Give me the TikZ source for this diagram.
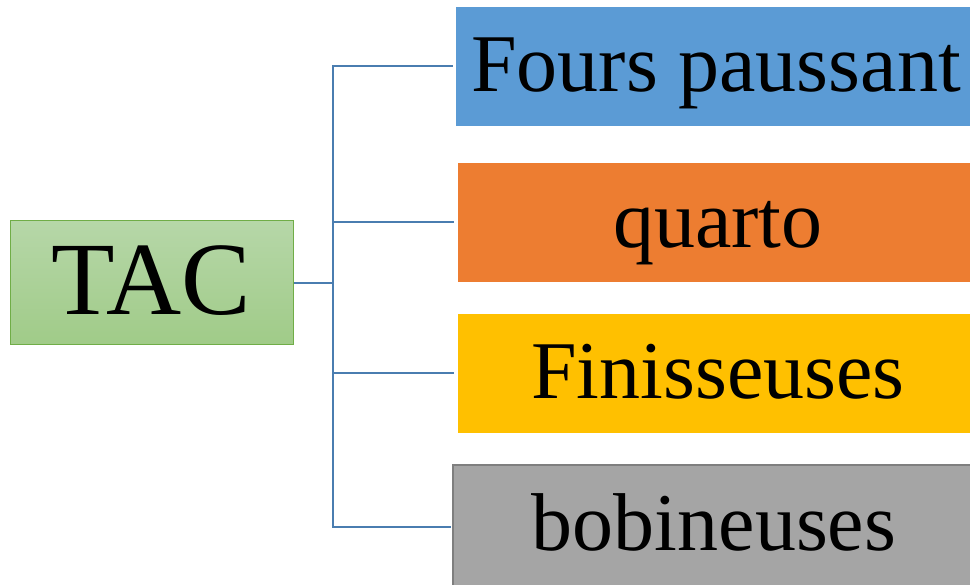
\documentclass[tikz,border=0pt]{standalone}
\usepackage{fontspec}
\setmainfont{Liberation Serif}
\definecolor{cblue}{HTML}{5B9BD5}
\definecolor{corange}{HTML}{ED7D31}
\definecolor{cyellow}{HTML}{FFC000}
\definecolor{cgray}{HTML}{A5A5A5}
\definecolor{cgrayedge}{HTML}{7F7F7F}
\definecolor{cgreentop}{HTML}{B6D7A8}
\definecolor{cgreenbot}{HTML}{A0CB88}
\definecolor{cgreenedge}{HTML}{70AD47}
\definecolor{cline}{HTML}{4A7DB0}
\tikzset{
  itembox/.style={rectangle, inner sep=0pt, minimum width=520pt, minimum height=119pt,
    font=\fontsize{82}{82}\selectfont, text height=58pt, text depth=8pt},
  rootbox/.style={rectangle, inner sep=0pt, minimum width=283pt, minimum height=124pt,
    top color=cgreentop, bottom color=cgreenbot, draw=cgreenedge, line width=1pt,
    font=\fontsize{104}{104}\selectfont, text height=74pt, text depth=10pt},
  conn/.style={draw=cline, line width=2pt}
}
\begin{document}
\begin{tikzpicture}[x=1pt, y=-1pt]
\useasboundingbox (0,0) rectangle (970,585);
\clip (0,0) rectangle (970,585);
\node[rootbox] (tac) at (151.5,283) {TAC};
\node[itembox, fill=cblue] (b1) at (716,66.5) {Fours paussant};
\node[itembox, fill=corange] (b2) at (718,222.5) {quarto};
\node[itembox, fill=cyellow] (b3) at (718,373.5) {Finisseuses};
\node[itembox, fill=cgray, draw=cgrayedge, line width=2pt, minimum width=522pt,
  minimum height=130pt, text depth=18pt] (b4) at (714,530) {bobineuses};
\coordinate (j) at (333,283);
\draw[conn] (tac.east) -- (j);
\draw[conn] (j) |- ([xshift=-3pt]b1.west);
\draw[conn] (j) |- ([xshift=-4pt]b2.west);
\draw[conn] (j) |- ([xshift=-4pt]b3.west);
\draw[conn] (j) |- ([xshift=-1pt,yshift=3pt]b4.west);
\end{tikzpicture}
\end{document}
